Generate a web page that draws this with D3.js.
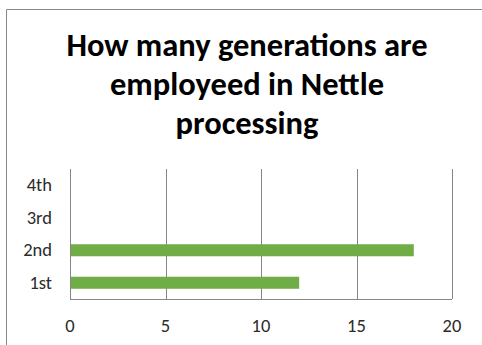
<!DOCTYPE html>
<html>
<head>
<meta charset="utf-8">
<script src="https://cdn.jsdelivr.net/npm/d3@7"></script>
<style>
  body { margin: 0; background: #fff; }
  svg { display: block; }
</style>
</head>
<body>
<svg id="chart" width="482" height="345"></svg>
<script>
var categories = ["1st", "2nd", "3rd", "4th"];
var values = [12, 18, 0, 0];
var xTicks = [0, 5, 10, 15, 20];
var titleLines = ["How many generations are", "employeed in Nettle", "processing"];

var svg = d3.select("#chart"),
    width = +svg.attr("width"),
    height = +svg.attr("height"),
    margin = {top: 169, right: 30, bottom: 46, left: 70};

var font = "Calibri, Carlito, 'Open Sans', sans-serif";

var data = categories.map(function(c, i) { return {cat: c, value: values[i]}; });

svg.append("rect").attr("width", width).attr("height", height).attr("fill", "#fff");

// chart frame, only top and left edges show
svg.append("path")
    .attr("d", "M6.5," + height + "V9.5H" + width)
    .attr("fill", "none")
    .attr("stroke", "#898989")
    .attr("stroke-width", 1);

var x = d3.scaleLinear().domain([0, 20]).range([margin.left, width - margin.right]);
var y = d3.scaleBand()
    .domain(categories.slice().reverse())
    .range([margin.top, height - margin.bottom])
    .paddingInner(0.63)
    .paddingOuter(0.315);

// title
svg.append("text")
    .attr("text-anchor", "middle")
    .attr("font-family", font)
    .attr("font-weight", "bold")
    .attr("font-size", 32.5)
    .attr("fill", "#000")
  .selectAll("tspan")
  .data(titleLines)
  .enter().append("tspan")
    .attr("x", 247)
    .attr("y", function(d, i) { return 56 + i * 39; })
    .text(function(d) { return d; });

// grid lines
svg.append("g")
  .selectAll("line")
  .data(xTicks)
  .enter().append("line")
    .attr("x1", function(d) { return Math.round(x(d)) + 0.5; })
    .attr("x2", function(d) { return Math.round(x(d)) + 0.5; })
    .attr("y1", margin.top)
    .attr("y2", height - margin.bottom)
    .attr("stroke", "#868686");

// bottom axis line
svg.append("line")
    .attr("x1", x(0)).attr("x2", x(20))
    .attr("y1", height - margin.bottom + 0.5).attr("y2", height - margin.bottom + 0.5)
    .attr("stroke", "#868686");

// bars
svg.append("g")
  .selectAll("rect")
  .data(data)
  .enter().append("rect")
    .attr("x", x(0) + 1)
    .attr("y", function(d) { return y(d.cat); })
    .attr("width", function(d) { return Math.max(0, x(d.value) - x(0) - 1); })
    .attr("height", y.bandwidth())
    .attr("fill", "#70ad47");

// x labels
svg.append("g")
  .selectAll("text")
  .data(xTicks)
  .enter().append("text")
    .attr("x", function(d) { return x(d); })
    .attr("y", 332)
    .attr("text-anchor", "middle")
    .attr("font-family", font)
    .attr("font-size", 18.5)
    .attr("fill", "#2b2b2b")
    .text(function(d) { return d; });

// y labels
svg.append("g")
  .selectAll("text")
  .data(categories)
  .enter().append("text")
    .attr("x", 52)
    .attr("y", function(d) { return y(d) + y.bandwidth() / 2 + 6; })
    .attr("text-anchor", "end")
    .attr("font-family", font)
    .attr("font-size", 18.5)
    .attr("fill", "#2b2b2b")
    .text(function(d) { return d; });
</script>
</body>
</html>
